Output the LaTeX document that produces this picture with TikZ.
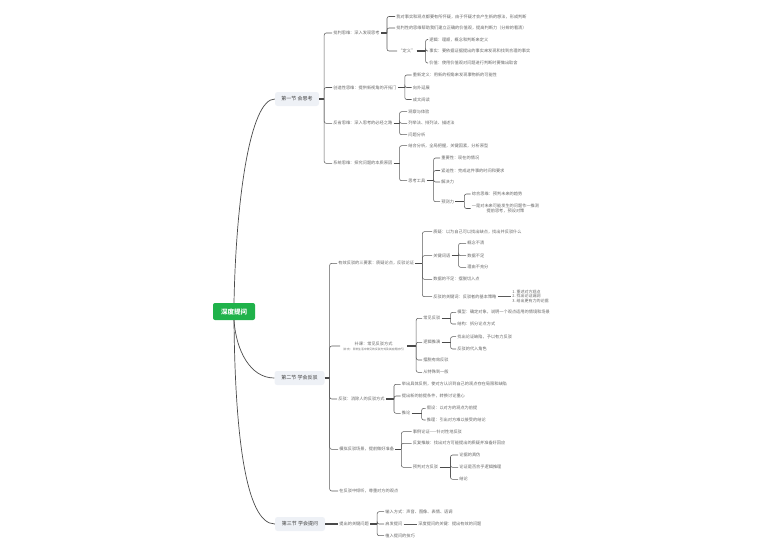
\documentclass[tikz,border=0pt]{standalone}
\usepackage{fontspec}
\setmainfont{Noto Sans CJK SC}
\definecolor{rootgreen}{HTML}{1FB24A}
\definecolor{secfill}{HTML}{EEF1F6}
\definecolor{textdark}{HTML}{404040}
\definecolor{textgray}{HTML}{666666}
\definecolor{linedark}{HTML}{4A4A4A}
\definecolor{linegray}{HTML}{5A5A5A}

\begin{document}
\begin{tikzpicture}[x=1pt,y=-1pt]
\tikzstyle{root} = [rectangle, rounded corners=2pt, fill=rootgreen, text=white, minimum width=42pt, minimum height=17pt, inner sep=1pt, font=\fontsize{6.5}{7}\selectfont\bfseries]
\tikzstyle{sec} = [rectangle, rounded corners=2.5pt, fill=secfill, text=textdark, minimum height=14pt, inner sep=1pt, font=\fontsize{5}{6}\selectfont]
\tikzstyle{leaf} = [anchor=west, inner sep=1.2pt, text=textgray, font=\fontsize{4.2}{5}\selectfont]
\tikzstyle{trunk} = [draw=linedark, line width=0.7pt]
\tikzstyle{link} = [draw=linegray, line width=0.55pt, rounded corners=2pt]
\tikzstyle{stub} = [draw=linedark, line width=1.3pt]

\useasboundingbox (0,0) rectangle (771,552);

\path
    (234,311.5) node[root] (root) {深度提问}
    (297,99) node[sec, minimum width=44pt] (secA) {第一节 会思考}
    (299.5,378) node[sec, minimum width=50pt] (secB) {第二节 学会反驳}
    (300,524) node[sec, minimum width=50pt] (secC) {第三节 学会提问};

\path
    (332,33) node[leaf] (a1) {批判思维：深入发现思考}
    (395,16.5) node[leaf] (a1a) {我对事实和观点都要有所怀疑，由于怀疑才会产生新的想法，形成判断}
    (395,28) node[leaf] (a1b) {批判性的思维帮助我们建立正确的价值观，提高判断力（分辨的看清）}
    (397,51) node[leaf] (a1c) {“定义”}
    (428,39.5) node[leaf] (a1c1) {逻辑：理顺，概念和判断来定义}
    (428,51) node[leaf] (a1c2) {事实：要依据证据提出的事实来发现和找到合理的事实}
    (428,63) node[leaf] (a1c3) {价值：使用价值观对问题进行判断时要做出取舍}
    (332,87.5) node[leaf] (a2) {创造性思维：提供新视角的开拓门}
    (411.5,75) node[leaf] (a2a) {重新定义：用新的视角来发现事物新的可能性}
    (411.5,87.5) node[leaf] (a2b) {向外延展}
    (411.5,99.5) node[leaf] (a2c) {成文阅读}
    (332,123.3) node[leaf] (a3) {反省思维：深入思考的必经之路}
    (407,111.7) node[leaf] (a3a) {观察与体验}
    (407,123.3) node[leaf] (a3b) {列举法、排列法、描述法}
    (407,134.7) node[leaf] (a3c) {问题分析}
    (332,163.3) node[leaf] (a4) {系统思维：探究问题的本质原因}
    (407,145.7) node[leaf] (a4a) {结合分析，全局把握，关键因素，分析原型}
    (407,180.7) node[leaf] (a4b) {思考工具}
    (440,158) node[leaf] (a4b1) {重要性：现在的情况}
    (440,170.5) node[leaf] (a4b2) {紧迫性：完成这件事的时间和要求}
    (440,182) node[leaf] (a4b3) {解决力}
    (440,201.7) node[leaf] (a4b4) {预测力}
    (470.5,194) node[leaf] (a4d1) {综合思维：预判未来的趋势}
    (470.5,208.5) node[leaf, align=center] (a4d2) {一是对未来可能发生的问题作一推测\\提前思考，预设对策};

\path
    (337,263.3) node[leaf] (b1) {有效反驳的三要素：质疑论点，反驳论证}
    (432,231.7) node[leaf] (b1a) {质疑：以为自己可以找出缺点，找出并反驳什么}
    (432,255.7) node[leaf] (b1b) {关键词语}
    (466,243.3) node[leaf] (b1b1) {概念不清}
    (466,255.7) node[leaf] (b1b2) {数据不足}
    (466,267.3) node[leaf] (b1b3) {理由不充分}
    (432,279.3) node[leaf] (b1c) {数据的不足：摆脱切入点}
    (432,296.7) node[leaf] (b1d) {反驳的关键词：反驳者的基本策略}
    (511,296.2) node[leaf, align=left, font=\fontsize{4}{4.6}\selectfont] (b1d1) {1.\ 重述对方观点\\2.\ 找出论证漏洞\\3.\ 给出更有力的论据}
    (340,346) node[leaf, align=center] (b2) {补课：常见反驳方式\\{\fontsize{2.8}{3.5}\selectfont （补充：日常生活中常见的反驳方式及其应用技巧）}}
    (422,318.3) node[leaf] (b2a) {常见反驳}
    (456,312.3) node[leaf] (b2a1) {模型：确定对象，说明一个观点适用的情境和场景}
    (456,324) node[leaf] (b2a2) {结构：拆分论点方式}
    (422,342.3) node[leaf] (b2b) {逻辑推演}
    (456,336.7) node[leaf] (b2b1) {找出论证缺陷，予以有力反驳}
    (456,349) node[leaf] (b2b2) {反驳的代入角色}
    (422,360) node[leaf] (b2c) {摆脱有效反驳}
    (422,372.3) node[leaf] (b2d) {从特殊到一般}
    (337,399) node[leaf] (b3) {反驳：消除人的反驳方式}
    (400.5,384.3) node[leaf] (b3a) {举出具体反例，使对方认识到自己的观点存在局限和缺陷}
    (400.5,396) node[leaf] (b3b) {提出新的前提条件，转换讨论重心}
    (400.5,413.3) node[leaf] (b3c) {推论}
    (425.5,408.3) node[leaf] (b3c1) {假设：以对方的观点为前提}
    (425.5,420) node[leaf] (b3c2) {推理：引出对方难以接受的结论}
    (338,449.3) node[leaf] (b4) {模拟反驳场景，提前做好准备}
    (411.5,431.7) node[leaf] (b4a) {事例论证——针对性地反驳}
    (411.5,443.3) node[leaf] (b4b) {反复推敲：找出对方可能提出的质疑并准备好回应}
    (411.5,467.3) node[leaf] (b4c) {预判对方反驳}
    (458,455) node[leaf] (b4c1) {论据的真伪}
    (458,467.3) node[leaf] (b4c2) {论证是否合乎逻辑推理}
    (458,479.3) node[leaf] (b4c3) {结论}
    (338,491) node[leaf] (b5) {在反驳中倾听，尊重对方的观点};

\path
    (338,524) node[leaf] (c1) {提出的关键问题}
    (384,511.7) node[leaf] (c1a) {输入方式：声音、图像、表情、语调}
    (384,524) node[leaf] (c1b) {启发提问}
    (417,524) node[leaf] (c1b1) {深度提问的关键：提出有效的问题}
    (384,535.7) node[leaf] (c1c) {植入提问的技巧};

\draw [trunk] (root.north) .. controls (236,200) and (250,99) .. (secA.west);
\draw [trunk] (root.south) .. controls (236,350) and (250,378) .. (secB.west);
\draw [trunk] (root.south) .. controls (235,430) and (245,524) .. (secC.west);

\draw [stub] (secA.east) -- ++(5,0);
\draw [link] (secA.east) ++(5,0) |- (a1.west);
\draw [link] (secA.east) ++(5,0) |- (a2.west);
\draw [link] (secA.east) ++(5,0) |- (a3.west);
\draw [link] (secA.east) ++(5,0) |- (a4.west);

\draw [stub] (a1.east) -- ++(6,0);
\draw [link] (a1.east) ++(6,0) |- (a1a.west);
\draw [link] (a1.east) ++(6,0) |- (a1b.west);
\draw [link] (a1.east) ++(6,0) |- (a1c.west);
\draw [stub] (a1c.east) -- ++(9,0);
\draw [link] (a1c.east) ++(9,0) |- (a1c1.west);
\draw [link] (a1c.east) ++(9,0) |- (a1c2.west);
\draw [link] (a1c.east) ++(9,0) |- (a1c3.west);

\draw [stub] (a2.east) -- ++(7,0);
\draw [link] (a2.east) ++(7,0) |- (a2a.west);
\draw [link] (a2.east) ++(7,0) |- (a2b.west);
\draw [link] (a2.east) ++(7,0) |- (a2c.west);

\draw [stub] (a3.east) -- ++(6,0);
\draw [link] (a3.east) ++(6,0) |- (a3a.west);
\draw [link] (a3.east) ++(6,0) |- (a3b.west);
\draw [link] (a3.east) ++(6,0) |- (a3c.west);

\draw [stub] (a4.east) -- ++(6,0);
\draw [link] (a4.east) ++(6,0) |- (a4a.west);
\draw [link] (a4.east) ++(6,0) |- (a4b.west);
\draw [stub] (a4b.east) -- ++(7,0);
\draw [link] (a4b.east) ++(7,0) |- (a4b1.west);
\draw [link] (a4b.east) ++(7,0) |- (a4b2.west);
\draw [link] (a4b.east) ++(7,0) |- (a4b3.west);
\draw [link] (a4b.east) ++(7,0) |- (a4b4.west);
\draw [stub] (a4b4.east) -- ++(9,0);
\draw [link] (a4b4.east) ++(9,0) |- (a4d1.west);
\draw [link] (a4b4.east) ++(9,0) |- (a4d2.west);

\draw [stub] (secB.east) -- ++(5,0);
\draw [link] (secB.east) ++(5,0) |- (b1.west);
\draw [link] (secB.east) ++(5,0) |- (b2.west);
\draw [link] (secB.east) ++(5,0) |- (b3.west);
\draw [link] (secB.east) ++(5,0) |- (b4.west);
\draw [link] (secB.east) ++(5,0) |- (b5.west);

\draw [stub] (b1.east) -- ++(7,0);
\draw [link] (b1.east) ++(7,0) |- (b1a.west);
\draw [link] (b1.east) ++(7,0) |- (b1b.west);
\draw [link] (b1.east) ++(7,0) |- (b1c.west);
\draw [link] (b1.east) ++(7,0) |- (b1d.west);
\draw [stub] (b1b.east) -- ++(7,0);
\draw [link] (b1b.east) ++(7,0) |- (b1b1.west);
\draw [link] (b1b.east) ++(7,0) |- (b1b2.west);
\draw [link] (b1b.east) ++(7,0) |- (b1b3.west);
\draw [link] (b1d.east) -- (b1d.east -| b1d1.west);

\draw [stub] (b2.east) -- ++(9,0);
\draw [link] (b2.east) ++(9,0) |- (b2a.west);
\draw [link] (b2.east) ++(9,0) |- (b2b.west);
\draw [link] (b2.east) ++(9,0) |- (b2c.west);
\draw [link] (b2.east) ++(9,0) |- (b2d.west);
\draw [stub] (b2a.east) -- ++(9,0);
\draw [link] (b2a.east) ++(9,0) |- (b2a1.west);
\draw [link] (b2a.east) ++(9,0) |- (b2a2.west);
\draw [stub] (b2b.east) -- ++(9,0);
\draw [link] (b2b.east) ++(9,0) |- (b2b1.west);
\draw [link] (b2b.east) ++(9,0) |- (b2b2.west);

\draw [stub] (b3.east) -- ++(8,0);
\draw [link] (b3.east) ++(8,0) |- (b3a.west);
\draw [link] (b3.east) ++(8,0) |- (b3b.west);
\draw [link] (b3.east) ++(8,0) |- (b3c.west);
\draw [stub] (b3c.east) -- ++(10,0);
\draw [link] (b3c.east) ++(10,0) |- (b3c1.west);
\draw [link] (b3c.east) ++(10,0) |- (b3c2.west);

\draw [stub] (b4.east) -- ++(6,0);
\draw [link] (b4.east) ++(6,0) |- (b4a.west);
\draw [link] (b4.east) ++(6,0) |- (b4b.west);
\draw [link] (b4.east) ++(6,0) |- (b4c.west);
\draw [stub] (b4c.east) -- ++(11,0);
\draw [link] (b4c.east) ++(11,0) |- (b4c1.west);
\draw [link] (b4c.east) ++(11,0) |- (b4c2.west);
\draw [link] (b4c.east) ++(11,0) |- (b4c3.west);

\draw [stub] (secC.east) -- (c1.west);
\draw [stub] (c1.east) -- ++(7,0);
\draw [link] (c1.east) ++(7,0) |- (c1a.west);
\draw [link] (c1.east) ++(7,0) |- (c1b.west);
\draw [link] (c1.east) ++(7,0) |- (c1c.west);
\draw [link] (c1b.east) -- (c1b1.west);
\end{tikzpicture}
\end{document}
